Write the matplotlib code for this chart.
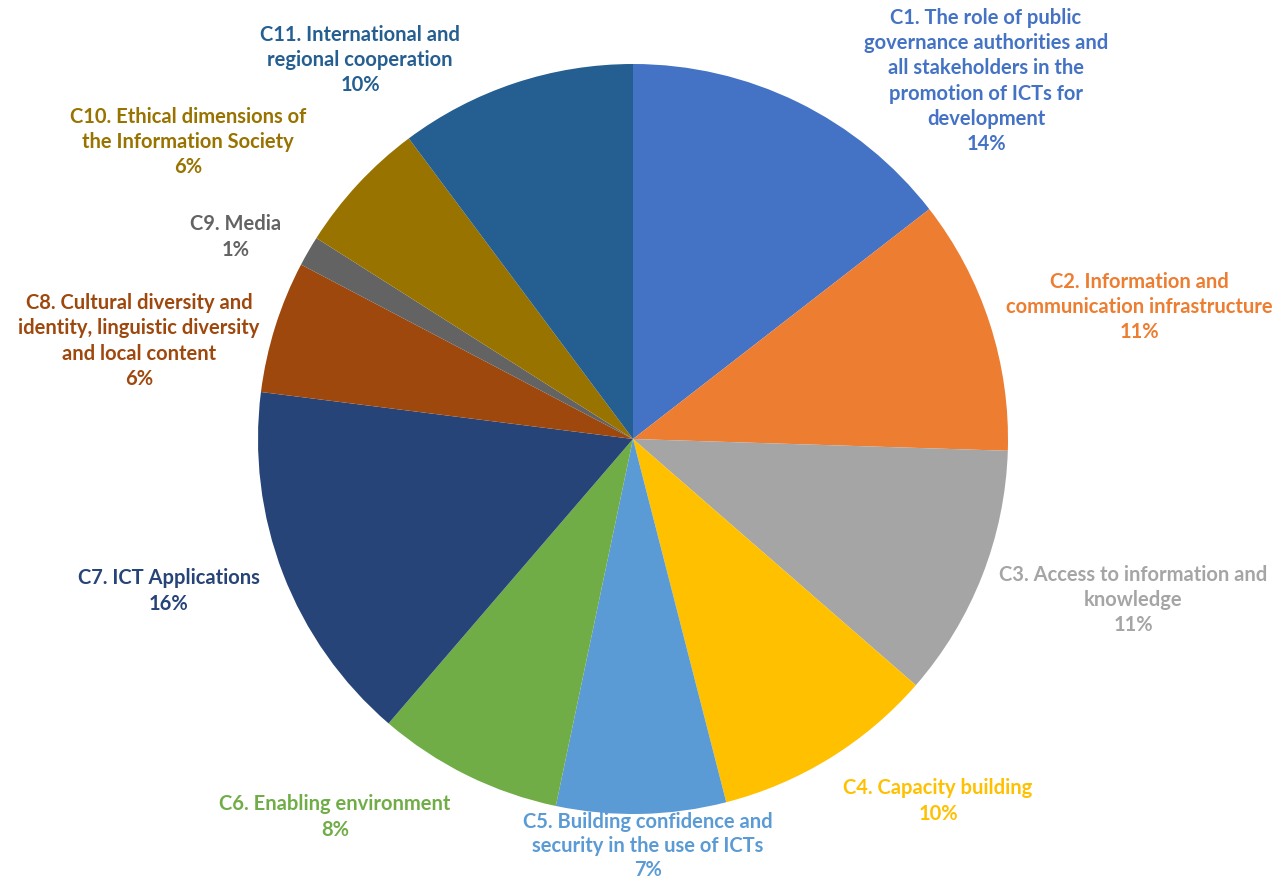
import numpy as np
import matplotlib
matplotlib.use("Agg")
import matplotlib.pyplot as plt

# slice shares and the shown labels
names = ["C1. The role of public\ngovernance authorities and\nall stakeholders in the\npromotion of ICTs for\ndevelopment",
         "C2. Information and\ncommunication infrastructure",
         "C3. Access to information and\nknowledge",
         "C4. Capacity building",
         "C5. Building confidence and\nsecurity in the use of ICTs",
         "C6. Enabling environment",
         "C7. ICT Applications",
         "C8. Cultural diversity and\nidentity, linguistic diversity\nand local content",
         "C9. Media",
         "C10. Ethical dimensions of\nthe Information Society",
         "C11. International and\nregional cooperation"]
shares = [14.5, 11.0, 10.9, 9.6, 7.3, 8.0, 15.7, 5.7, 1.3, 5.8, 10.2]
pct_text = ["14%", "11%", "11%", "10%", "7%", "8%", "16%", "6%", "1%", "6%", "10%"]

colors = ["#4472C4", "#ED7D31", "#A5A5A5", "#FFC000", "#5B9BD5", "#70AD47",
          "#264478", "#9E480E", "#636363", "#997300", "#255E91"]

# label centres in pixels (x, y from top)
label_pos = [(986, 81), (1139, 307), (1133, 600), (938, 801), (648, 846),
             (335, 817), (169, 591), (139, 341), (236, 237), (188, 142), (360, 60)]

W, H = 1276, 879
fig = plt.figure(figsize=(W / 100, H / 100), dpi=100)
ax = fig.add_axes([0, 0, 1, 1])

ax.pie(shares, colors=colors, startangle=90, counterclock=False,
       center=(633, H - 440), radius=375,
       wedgeprops=dict(linewidth=0))
ax.set_xlim(0, W)
ax.set_ylim(0, H)
ax.set_aspect("equal")
ax.axis("off")

for i, (name, p, c, (x, y)) in enumerate(zip(names, pct_text, colors, label_pos)):
    ls = 1.22 if i == 4 else 1.32
    ax.text(x, H - y, name + "\n" + p, color=c, ha="center", va="center",
            fontsize=14.5, fontweight="bold", family="Lato", linespacing=ls)

fig.savefig("out.png", dpi=100)
